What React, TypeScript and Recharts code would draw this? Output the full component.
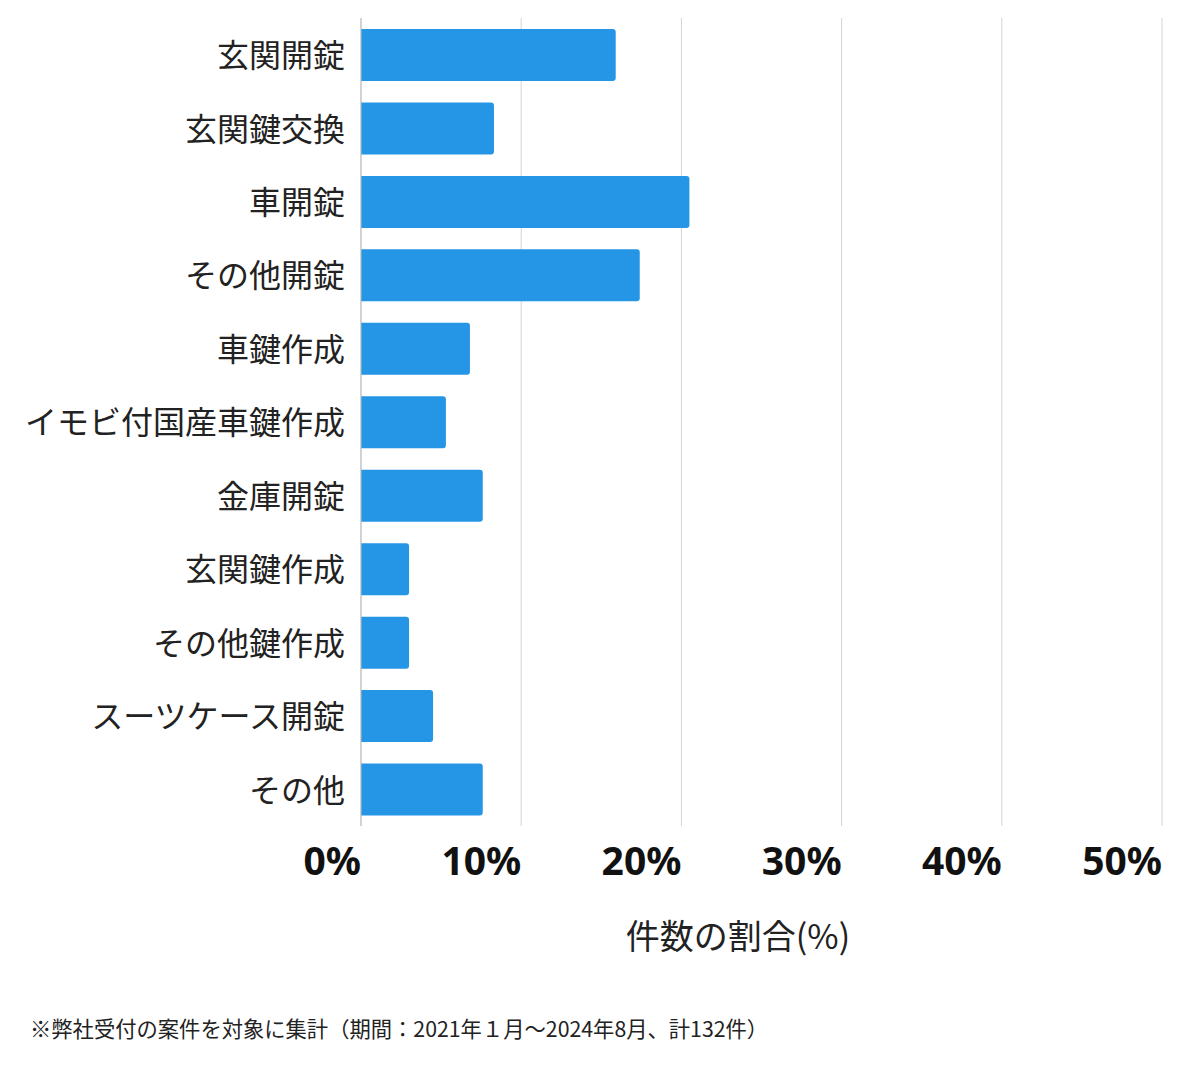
import { Bar, BarChart, CartesianGrid, XAxis, YAxis } from "recharts";

const categories = [
  "玄関開錠",
  "玄関鍵交換",
  "車開錠",
  "その他開錠",
  "車鍵作成",
  "イモビ付国産車鍵作成",
  "金庫開錠",
  "玄関鍵作成",
  "その他鍵作成",
  "スーツケース開錠",
  "その他",
];
const shares = [15.9, 8.3, 20.5, 17.4, 6.8, 5.3, 7.6, 3.0, 3.0, 4.5, 7.6];
const xTicks = [0, 10, 20, 30, 40, 50];

const axisTitle = "件数の割合(%)";
const footnote = "※弊社受付の案件を対象に集計（期間：2021年１月〜2024年8月、計132件）";

const data = categories.map((name, i) => ({ name, share: shares[i] }));

const JP = '"Noto Sans CJK JP", "Noto Sans", sans-serif';

function PercentTick({ x, y, payload }: any) {
  return (
    <text
      x={x}
      y={y}
      dy={41}
      textAnchor="end"
      fill="#111"
      fontFamily='"Noto Sans", sans-serif'
      fontWeight={700}
      fontSize={39}
    >
      {`${payload.value}%`}
    </text>
  );
}

export default function App() {
  return (
    <div style={{ position: "absolute", left: 0, top: 0, width: 1200, height: 1069, background: "#fff" }}>
      <BarChart
        width={1200}
        height={900}
        data={data}
        layout="vertical"
        margin={{ top: 18, right: 38, left: 0, bottom: 0 }}
        barSize={52}
      >
        <CartesianGrid horizontal={false} stroke="#d4d4d4" />
        <XAxis
          type="number"
          domain={[0, 50]}
          ticks={xTicks}
          axisLine={false}
          tickLine={false}
          height={74}
          tick={<PercentTick />}
        />
        <YAxis
          type="category"
          dataKey="name"
          width={361}
          axisLine={{ stroke: "#bbb" }}
          tickLine={false}
          tickSize={6}
          tickMargin={10}
          interval={0}
          tick={{ fill: "#222", fontSize: 32, fontFamily: JP, dy: 1 }}
        />
        <Bar dataKey="share" fill="#2595e6" radius={[0, 3, 3, 0]} isAnimationActive={false} />
      </BarChart>
      <div
        style={{
          position: "absolute",
          left: 538,
          width: 400,
          top: 912,
          textAlign: "center",
          fontFamily: JP,
          fontSize: 34,
          lineHeight: "46px",
          color: "#222",
        }}
      >
        {axisTitle}
      </div>
      <div
        style={{
          position: "absolute",
          left: 30,
          top: 1013,
          fontFamily: JP,
          fontSize: 21.3,
          lineHeight: "30px",
          color: "#222",
          whiteSpace: "nowrap",
        }}
      >
        {footnote}
      </div>
    </div>
  );
}
